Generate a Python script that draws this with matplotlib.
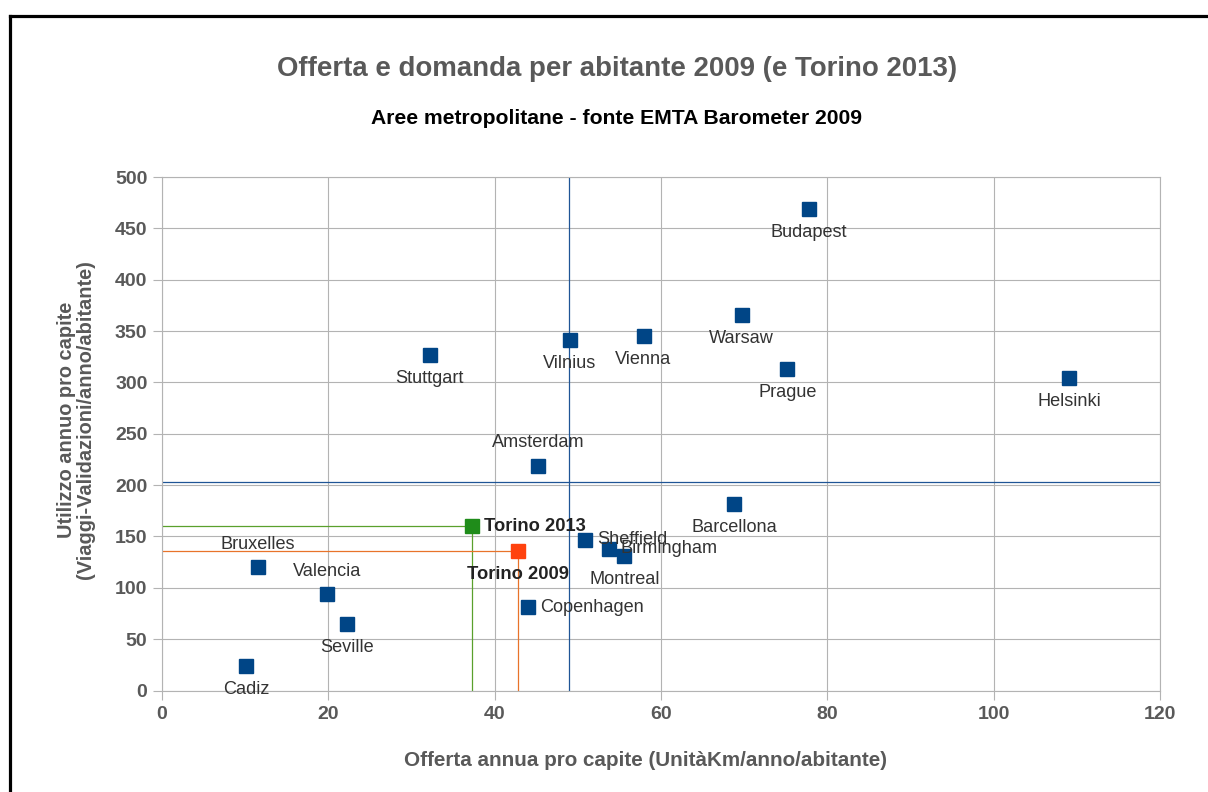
import matplotlib
matplotlib.use("Agg")
import matplotlib.pyplot as plt
from matplotlib.lines import Line2D

plt.rcParams['font.family'] = ['Liberation Sans', 'DejaVu Sans']

# --- data ---
cities = ['Budapest', 'Warsaw', 'Prague', 'Helsinki', 'Vienna', 'Vilnius', 'Stuttgart',
          'Amsterdam', 'Barcellona', 'Sheffield', 'Birmingham', 'Montreal', 'Copenhagen',
          'Bruxelles', 'Valencia', 'Seville', 'Cadiz']
offerta = [77.8, 69.7, 75.2, 109.1, 57.9, 49.0, 32.2,
           45.2, 68.8, 50.9, 53.7, 55.6, 44.0,
           11.5, 19.8, 22.3, 10.1]
domanda = [469, 366, 313, 304, 345, 341, 327,
           219, 182, 147, 138, 131, 81,
           120, 94, 65, 24]
# where the label goes relative to the marker
label_pos = ['below', 'below', 'below', 'below', 'below', 'below', 'below',
             'above', 'below', 'right', 'right', 'below', 'right',
             'above', 'above', 'below', 'below']

torino_years = ['Torino 2013', 'Torino 2009']
torino_offerta = [37.3, 42.8]
torino_domanda = [160, 136]
torino_label_pos = ['right', 'below']

media_offerta = 48.9
media_domanda = 203

xticks = [0, 20, 40, 60, 80, 100, 120]
yticks = [0, 50, 100, 150, 200, 250, 300, 350, 400, 450, 500]

blue = '#004586'
torino_marker = ['#1f8c1a', '#ff420e']
torino_line = ['#5aa02c', '#e8732a']
grid_c = '#b3b3b3'
gray_txt = '#595959'
label_c = '#333333'

fig = plt.figure(figsize=(12.08, 7.92), dpi=100)
ax = fig.add_axes([162 / 1208, 1 - 690.5 / 792, 998 / 1208, 513.5 / 792])

ax.set_xlim(0, 120)
ax.set_ylim(0, 500)
ax.set_xticks(xticks)
ax.set_yticks(yticks)
ax.grid(True, color=grid_c, linewidth=0.8)
ax.set_axisbelow(True)
for sp in ax.spines.values():
    sp.set_color(grid_c)
    sp.set_linewidth(0.8)
ax.tick_params(colors=grid_c, length=6.5, width=0.8, labelcolor=gray_txt, labelsize=14)
ax.tick_params(axis='y', pad=4)
ax.tick_params(axis='x', pad=5)
for lab in ax.get_xticklabels() + ax.get_yticklabels():
    lab.set_fontweight('bold')

# average lines
ax.axvline(media_offerta, color='#1f5596', linewidth=0.9, zorder=2)
ax.axhline(media_domanda, color='#1f5596', linewidth=0.9, zorder=2)

# Torino reference lines
for xo, yo, lc in zip(torino_offerta, torino_domanda, torino_line):
    ax.plot([0, xo], [yo, yo], color=lc, linewidth=0.9, zorder=2)
    ax.plot([xo, xo], [0, yo], color=lc, linewidth=0.9, zorder=2)

offsets = {'below': (0, -17, 'center', 'center'),
           'above': (0, 16.5, 'center', 'center'),
           'right': (8.5, 0, 'left', 'center')}

ax.plot(offerta, domanda, 's', color=blue, markersize=10.5, linestyle='none', zorder=4)
for name, xv, yv, pos in zip(cities, offerta, domanda, label_pos):
    dx, dy, ha, va = offsets[pos]
    ax.annotate(name, (xv, yv), xytext=(dx, dy), textcoords='offset points',
                ha=ha, va=va, fontsize=13.1, color=label_c, zorder=5)

for name, xv, yv, pos, mc in zip(torino_years, torino_offerta, torino_domanda,
                                 torino_label_pos, torino_marker):
    ax.plot([xv], [yv], 's', color=mc, markersize=10.5, zorder=4)
    dx, dy, ha, va = offsets[pos]
    ax.annotate(name, (xv, yv), xytext=(dx, dy), textcoords='offset points',
                ha=ha, va=va, fontsize=13.2, fontweight='bold', color='#222222', zorder=5)

# titles and axis labels
fig.text(0.511, 1 - 69 / 792, 'Offerta e domanda per abitante 2009 (e Torino 2013)',
         ha='center', va='center', fontsize=19.9, fontweight='bold', color=gray_txt)
fig.text(0.51, 1 - 119 / 792, 'Aree metropolitane - fonte EMTA Barometer 2009',
         ha='center', va='center', fontsize=15.2, fontweight='bold', color='black')
fig.text(646 / 1208, 1 - 761 / 792, 'Offerta annua pro capite (UnitàKm/anno/abitante)',
         ha='center', va='center', fontsize=14.9, fontweight='bold', color=gray_txt)
fig.text(76 / 1208, 1 - 420 / 792,
         'Utilizzo annuo pro capite\n(Viaggi-Validazioni/anno/abitante)',
         ha='center', va='center', rotation=90, fontsize=14.4, fontweight='bold',
         color=gray_txt, linespacing=1.0)

# black frame around the chart (cut at right and bottom)
fig.add_artist(Line2D([10 / 1208, 1.01], [1 - 16 / 792, 1 - 16 / 792],
                      color='black', linewidth=2.3, transform=fig.transFigure))
fig.add_artist(Line2D([10 / 1208, 10 / 1208], [1 - 16 / 792, -0.01],
                      color='black', linewidth=2.3, transform=fig.transFigure))

fig.savefig('out.png', dpi=100)
